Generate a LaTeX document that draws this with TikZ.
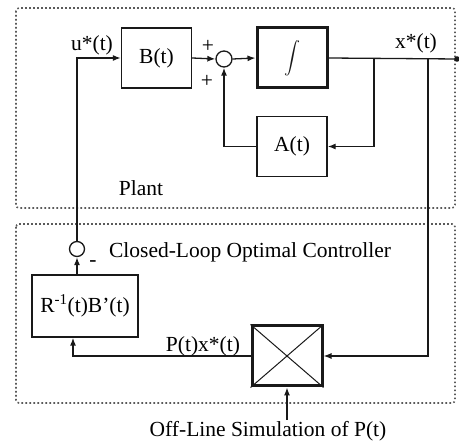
\documentclass[tikz,border=0pt]{standalone}
\usepackage{fontspec}
\setmainfont{Liberation Serif}
\usepackage{tikz}
\usetikzlibrary{arrows.meta,calc}
\definecolor{figline}{RGB}{25,25,25}
\definecolor{figframe}{RGB}{90,90,90}
\tikzset{
  ln/.style   ={draw=figline, line width=1.3pt},
  blk/.style  ={draw=figline, line width=1.3pt, rectangle, minimum width=70pt, minimum height=60pt, inner sep=0pt},
  blkb/.style ={blk, line width=3pt},
  sj/.style   ={draw=figline, line width=1.3pt, circle, minimum size=16pt, inner sep=0pt},
  frm/.style  ={draw=figframe, line width=1.6pt, dash pattern=on 1.6pt off 2.4pt, rounded corners=3pt},
  lab/.style  ={font=\fontsize{21.5}{24}\selectfont, inner sep=1pt},
  ar/.style   ={ln, -{Latex[length=8pt,width=6pt]}},
}
\begin{document}
\begin{tikzpicture}[x=1pt,y=-1pt]
  \useasboundingbox (0,0) rectangle (459,443);
  % frames
  \draw[frm] (16,8) rectangle (455,208);
  \draw[frm] (16,224) rectangle (455,403);
  % plant blocks
  \node[blk] (B) at (156.5,58) {};
  \node[lab] at (B) {B(t)};
  \node[sj] (sum) at (224,59) {};
  \node[blkb] (int) at (292,58) {};
  \node[scale=1.6, text=figline] at (int) {$\displaystyle\int$};
  \node[blk] (A) at (292,146.5) {};
  \node[lab] at (A) {A(t)};
  \coordinate (out) at (457,59);
  \coordinate (br1) at (374,59);
  \coordinate (br2) at (428,59);
  % controller blocks
  \node[sj, minimum size=15pt] (csum) at (77,249) {};
  \node[blk, minimum width=106pt, minimum height=62pt] (R) at (85,306) {};
  \node[lab] at (R) {R\textsuperscript{-1}(t)B'(t)};
  \node[blkb] (mult) at (287,356) {};
  \draw[figline, line width=1pt] (mult.north west) -- (mult.south east);
  \draw[figline, line width=1pt] (mult.north east) -- (mult.south west);
  \node[lab] (sim) at (268,431) {Off-Line Simulation of P(t)};
  % connectors
  \draw[ar] (csum.north) |- (B.west);
  \draw[ar] (B.east) -- (sum.west);
  \draw[ar] (sum.east) -- (int.west);
  \draw[ln] (int.east) -- (out);
  \fill[figline] (out) circle (2.8pt);
  \draw[ar] (br1) |- (A.east);
  \draw[ar] (A.west) -| (sum.south);
  \draw[ar] (br2) |- (mult.east);
  \draw[ar] (mult.west) -| ($(R.south)+(-12,0)$);
  \draw[ar] (R.north -| csum) -- (csum.south);
  \draw[ar] (sim.north -| mult) -- (mult.south);
  % labels
  \node[lab] at (92,45) {u*(t)};
  \node[lab] at (416,43) {x*(t)};
  \node[lab] at (208,46) {+};
  \node[lab] at (207,81) {+};
  \node[lab] at (93,264) {-};
  \node[lab] at (141,188) {Plant};
  \node[lab] at (250,252) {Closed-Loop Optimal Controller};
  \node[lab] at (203,346) {P(t)x*(t)};
\end{tikzpicture}
\end{document}
